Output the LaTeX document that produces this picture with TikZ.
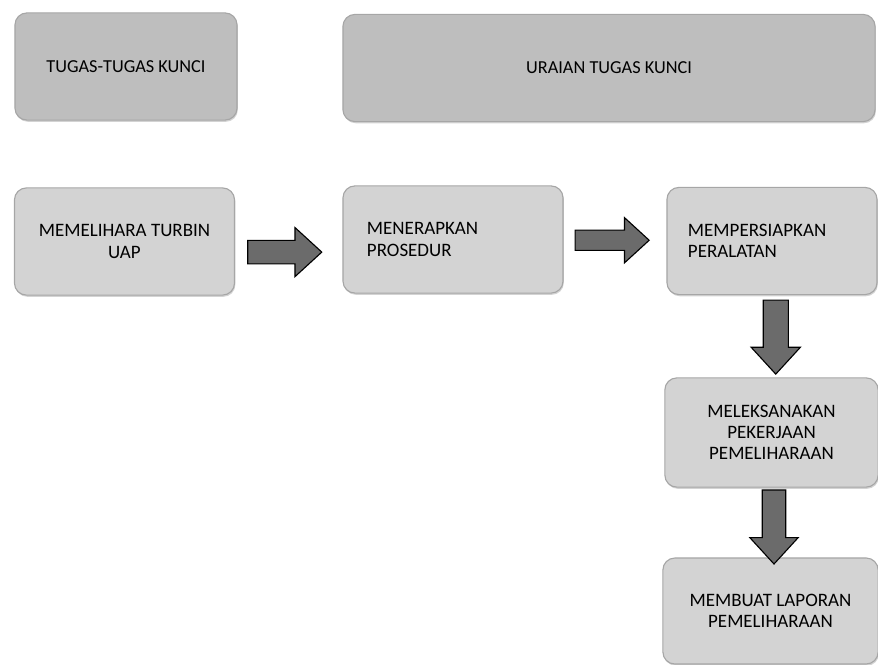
\documentclass[tikz,border=0pt]{standalone}
\usepackage{fontspec}
\setmainfont{Carlito}
\usetikzlibrary{shapes.arrows, shadows}

\definecolor{kotakatas}{HTML}{BEBEBE}
\definecolor{kotakisi}{HTML}{D3D3D3}
\definecolor{panah}{HTML}{6B6B6B}

\tikzset{
    kotak/.style={draw=gray!70, line width=0.8pt, fill=kotakisi, rounded corners=0.3cm,
        minimum width=5.5cm, minimum height=2.68cm, align=center, inner sep=0pt,
        drop shadow={opacity=0.35, shadow xshift=0.6pt, shadow yshift=-1.2pt}},
    judul/.style={kotak, fill=kotakatas, font=\fontsize{13}{15}\selectfont},
    kiri/.style={align=left, text width=4.3cm},
    panahkanan/.style={single arrow, draw=black, line width=0.8pt, fill=panah,
        minimum height=1.85cm, inner xsep=0pt, inner ysep=0.28cm, single arrow head extend=0.32cm,
        single arrow head indent=0pt, single arrow tip angle=85},
    panahbawah/.style={panahkanan, rotate=-90}
}

\begin{document}
\begin{tikzpicture}[x=0.025cm, y=-0.025cm, every node/.style={font=\fontsize{13.5}{15}\selectfont}]
    \useasboundingbox (0,0) rectangle (878,664);

    % Judul
    \node[judul, minimum width=5.55cm] (tugas) at (126,66.5) {TUGAS-TUGAS KUNCI};
    \node[judul, minimum width=13.3cm] (uraian) at (609,68) {URAIAN TUGAS KUNCI};

    % Baris atas
    \node[kotak] (pelihara) at (124.5,241.5) {MEMELIHARA TURBIN\\UAP};
    \node[kotak, kiri] (prosedur) at (453,239.5) {MENERAPKAN\\PROSEDUR};
    \node[kotak, kiri, minimum width=5.25cm, text width=4.2cm] (alat) at (772,241) {MEMPERSIAPKAN\\PERALATAN};

    % Kolom kanan
    \node[kotak, minimum width=5.33cm, minimum height=2.73cm] (laksana) at (771.5,432.5) {MELEKSANAKAN\\PEKERJAAN\\PEMELIHARAAN};
    \node[kotak, minimum width=5.38cm, minimum height=2.65cm] (laporan) at (770.5,611) {MEMBUAT LAPORAN\\PEMELIHARAAN};

    % Panah
    \path (pelihara.east) -- node[panahkanan, xshift=-0.26cm, yshift=-0.29cm] (p1) {} (prosedur.west);
    \path (prosedur.east) -- node[panahkanan, inner ysep=0.24cm, single arrow head extend=0.31cm, xshift=-0.21cm] (p2) {} (alat.west);
    \path (alat.south) -- node[panahbawah, inner ysep=0.3cm, single arrow head extend=0.3cm, xshift=-0.15cm, yshift=0.1cm] (p3) {} (laksana.north);
    \path (laksana.south) -- node[panahbawah, inner ysep=0.28cm, single arrow head extend=0.31cm, xshift=-0.05cm, yshift=0.075cm] (p4) {} (laporan.north);
\end{tikzpicture}
\end{document}
